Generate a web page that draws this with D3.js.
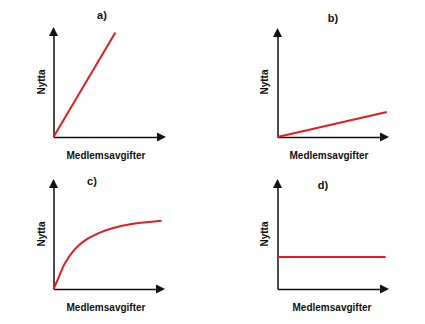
<!DOCTYPE html>
<html><head><meta charset="utf-8">
<script src="https://cdn.jsdelivr.net/npm/d3@7"></script>
<style>
html,body{margin:0;padding:0;background:#fff;}
svg text{font-family:"Liberation Sans",Arial,sans-serif;font-weight:bold;fill:#111;}
</style></head>
<body>
<svg id="c" width="425" height="324"></svg>
<script>
// Data (x, y in 0..100 relative units)
const panelTitles = ["a)", "b)", "c)", "d)"];
const xLabel = "Medlemsavgifter";
const yLabel = "Nytta";
const seriesA = [[0,0],[55,95]];
const seriesB = [[0,0],[98,23]];
const seriesC = [[0,0],[4,9],[10,23],[19,36],[28,44],[40,50.5],[52,55],[70,59],[97,62]];
const seriesD = [[0,29],[97,29]];

const panels = [
  {data: seriesA, ox: 53.5, oy: 137, tipX: 166, topY: 27, tx: 102, ty: 19, curve: d3.curveLinear, lx: 41, ly: 82, bx: 106, by: 159},
  {data: seriesB, ox: 277.5, oy: 137, tipX: 389, topY: 28, tx: 333, ty: 22, curve: d3.curveLinear, lx: 264, ly: 82, bx: 329, by: 159},
  {data: seriesC, ox: 53.5, oy: 289, tipX: 165, topY: 179, tx: 92, ty: 185, curve: d3.curveCatmullRom.alpha(0.5), lx: 41, ly: 234, bx: 106, by: 311},
  {data: seriesD, ox: 277.5, oy: 289, tipX: 389, topY: 179, tx: 323, ty: 189, curve: d3.curveLinear, lx: 264, ly: 234, bx: 332, by: 311}
];

const svg = d3.select("#c");
const red = "#e31b23";

panels.forEach((p, i) => {
  const x = d3.scaleLinear().domain([0,100]).range([p.ox, p.tipX]);
  const y = d3.scaleLinear().domain([0,100]).range([p.oy, p.topY]);
  const g = svg.append("g");

  // axes (no ticks), drawn through d3 axis generators
  g.append("g").attr("transform", `translate(0,${p.oy})`)
    .call(d3.axisBottom(d3.scaleLinear().domain([0,100]).range([p.ox, p.tipX - 6])).ticks(0).tickSize(0).tickSizeOuter(0))
    .call(s => s.select(".domain").attr("stroke", "#111").attr("stroke-width", 1.5))
    .selectAll("text").remove();
  g.append("g").attr("transform", `translate(${p.ox},0)`)
    .call(d3.axisLeft(d3.scaleLinear().domain([0,100]).range([p.oy, p.topY + 6])).ticks(0).tickSize(0).tickSizeOuter(0))
    .call(s => s.select(".domain").attr("stroke", "#111").attr("stroke-width", 1.5))
    .selectAll("text").remove();

  // arrowheads
  const xt = x(100), yt = y(100);
  g.append("path").attr("d", `M${xt},${p.oy} L${xt-9},${p.oy-4.5} L${xt-9},${p.oy+4.5} Z`).attr("fill", "#111");
  g.append("path").attr("d", `M${p.ox},${yt} L${p.ox-4.5},${yt+9} L${p.ox+4.5},${yt+9} Z`).attr("fill", "#111");

  // series
  const line = d3.line().x(d => x(d[0])).y(d => y(d[1])).curve(p.curve);
  g.append("path").datum(p.data).attr("d", line)
    .attr("fill", "none").attr("stroke", red).attr("stroke-width", 2);

  // labels
  g.append("text").attr("x", p.tx).attr("y", p.ty).attr("text-anchor", "middle")
    .attr("font-size", 11).text(panelTitles[i]);
  g.append("text").attr("x", p.bx).attr("y", p.by).attr("text-anchor", "middle")
    .attr("font-size", 10).text(xLabel);
  g.append("text").attr("transform", `translate(${p.lx + 3.5},${p.ly}) rotate(-90)`)
    .attr("text-anchor", "middle").attr("font-size", 10).text(yLabel);
});
</script>
</body></html>
